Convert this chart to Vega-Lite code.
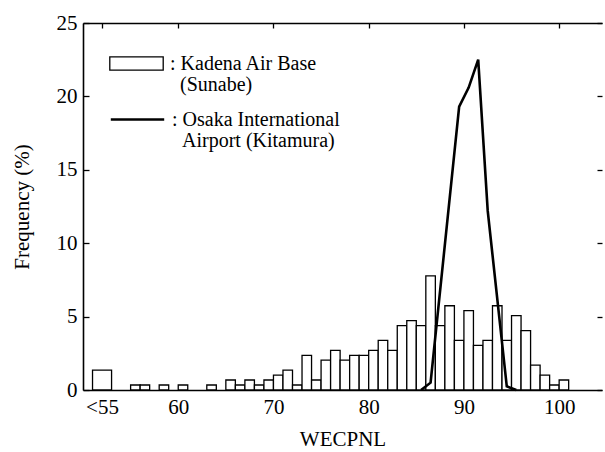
{
  "$schema": "https://vega.github.io/schema/vega-lite/v6.json",
  "width": 519,
  "height": 367,
  "autosize": {"type": "none"},
  "padding": {"left": 83, "top": 23, "right": 3, "bottom": 62},
  "background": "white",
  "config": {
    "view": {"stroke": null},
    "font": "Liberation Serif",
    "axis": {
      "grid": false,
      "labelFontSize": 21,
      "titleFontSize": 21,
      "domainColor": "black",
      "tickColor": "black",
      "domainWidth": 1.6,
      "tickWidth": 1.3
    }
  },
  "datasets": {
    "kadena": [
      {"wecpnl": 51, "wecpnl_end": 53, "pct": 1.35},
      {"wecpnl": 55, "wecpnl_end": 56, "pct": 0.34},
      {"wecpnl": 56, "wecpnl_end": 57, "pct": 0.34},
      {"wecpnl": 58, "wecpnl_end": 59, "pct": 0.34},
      {"wecpnl": 60, "wecpnl_end": 61, "pct": 0.34},
      {"wecpnl": 63, "wecpnl_end": 64, "pct": 0.34},
      {"wecpnl": 65, "wecpnl_end": 66, "pct": 0.68},
      {"wecpnl": 66, "wecpnl_end": 67, "pct": 0.34},
      {"wecpnl": 67, "wecpnl_end": 68, "pct": 0.68},
      {"wecpnl": 68, "wecpnl_end": 69, "pct": 0.34},
      {"wecpnl": 69, "wecpnl_end": 70, "pct": 0.68},
      {"wecpnl": 70, "wecpnl_end": 71, "pct": 1.01},
      {"wecpnl": 71, "wecpnl_end": 72, "pct": 1.35},
      {"wecpnl": 72, "wecpnl_end": 73, "pct": 0.34},
      {"wecpnl": 73, "wecpnl_end": 74, "pct": 2.36},
      {"wecpnl": 74, "wecpnl_end": 75, "pct": 0.68},
      {"wecpnl": 75, "wecpnl_end": 76, "pct": 2.03},
      {"wecpnl": 76, "wecpnl_end": 77, "pct": 2.7},
      {"wecpnl": 77, "wecpnl_end": 78, "pct": 2.03},
      {"wecpnl": 78, "wecpnl_end": 79, "pct": 2.36},
      {"wecpnl": 79, "wecpnl_end": 80, "pct": 2.36},
      {"wecpnl": 80, "wecpnl_end": 81, "pct": 2.7},
      {"wecpnl": 81, "wecpnl_end": 82, "pct": 3.38},
      {"wecpnl": 82, "wecpnl_end": 83, "pct": 2.7},
      {"wecpnl": 83, "wecpnl_end": 84, "pct": 4.39},
      {"wecpnl": 84, "wecpnl_end": 85, "pct": 4.73},
      {"wecpnl": 85, "wecpnl_end": 86, "pct": 4.39},
      {"wecpnl": 86, "wecpnl_end": 87, "pct": 7.77},
      {"wecpnl": 87, "wecpnl_end": 88, "pct": 4.39},
      {"wecpnl": 88, "wecpnl_end": 89, "pct": 5.74},
      {"wecpnl": 89, "wecpnl_end": 90, "pct": 3.38},
      {"wecpnl": 90, "wecpnl_end": 91, "pct": 5.41},
      {"wecpnl": 91, "wecpnl_end": 92, "pct": 3.04},
      {"wecpnl": 92, "wecpnl_end": 93, "pct": 3.38},
      {"wecpnl": 93, "wecpnl_end": 94, "pct": 5.74},
      {"wecpnl": 94, "wecpnl_end": 95, "pct": 3.38},
      {"wecpnl": 95, "wecpnl_end": 96, "pct": 5.07},
      {"wecpnl": 96, "wecpnl_end": 97, "pct": 4.05},
      {"wecpnl": 97, "wecpnl_end": 98, "pct": 1.69},
      {"wecpnl": 98, "wecpnl_end": 99, "pct": 1.01},
      {"wecpnl": 99, "wecpnl_end": 100, "pct": 0.34},
      {"wecpnl": 100, "wecpnl_end": 101, "pct": 0.68}
    ],
    "osaka": [
      {"wecpnl": 85.5, "pct": 0},
      {"wecpnl": 86.5, "pct": 0.5},
      {"wecpnl": 89.5, "pct": 19.3},
      {"wecpnl": 90.5, "pct": 20.6},
      {"wecpnl": 91.5, "pct": 22.5},
      {"wecpnl": 92.5, "pct": 12.2},
      {"wecpnl": 94.5, "pct": 0.25},
      {"wecpnl": 95.5, "pct": 0}
    ]
  },
  "layer": [
    {
      "data": {"name": "kadena"},
      "mark": {"type": "rect", "stroke": "black", "strokeWidth": 1.3},
      "encoding": {
        "x": {
          "field": "wecpnl",
          "type": "quantitative",
          "scale": {"domain": [50, 104.5], "nice": false, "zero": false},
          "axis": {
            "orient": "bottom",
            "values": [52, 60, 70, 80, 90, 100],
            "labelExpr": "datum.value == 52 ? '<55' : datum.label",
            "ticks": false,
            "labelPadding": 6,
            "title": "WECPNL",
            "titleFontWeight": "normal",
            "titlePadding": 11
          }
        },
        "x2": {"field": "wecpnl_end"},
        "y": {
          "field": "pct",
          "type": "quantitative",
          "scale": {"domain": [0, 25], "nice": false},
          "axis": {
            "orient": "left",
            "values": [0, 5, 10, 15, 20, 25],
            "tickSize": -6,
            "labelPadding": 12,
            "title": "Frequency (%)",
            "titleFontWeight": "normal",
            "titlePadding": 24
          }
        },
        "y2": {"datum": 0},
        "fill": {
          "datum": ": Kadena Air Base",
          "type": "nominal",
          "scale": {"range": ["white"]},
          "legend": {
            "orient": "none",
            "legendX": 26,
            "legendY": 13,
            "padding": 0,
            "title": null,
            "symbolType": "M-1,-0.25H1V0.25H-1Z",
            "symbolSize": 2852,
            "symbolStrokeColor": "black",
            "symbolStrokeWidth": 1.3,
            "symbolFillColor": "white",
            "labelFontSize": 20,
            "labelColor": "black",
            "labelLimit": 0,
            "labelOffset": 6,
            "labelBaseline": "alphabetic",
            "labelExpr": "[datum.label, '\u200b\u00a0\u00a0(Sunabe)']",
            "encode": {
              "labels": {"update": {"dy": {"value": 6}, "lineHeight": {"value": 21}}}
            }
          }
        }
      }
    },
    {
      "data": {"name": "osaka"},
      "mark": {"type": "line", "strokeWidth": 2.6, "strokeJoin": "miter"},
      "encoding": {
        "x": {"field": "wecpnl", "type": "quantitative", "axis": null},
        "y": {"field": "pct", "type": "quantitative", "axis": null},
        "stroke": {
          "datum": ": Osaka International",
          "type": "nominal",
          "scale": {"range": ["black"]},
          "legend": {
            "orient": "none",
            "legendX": 26,
            "legendY": 68,
            "padding": 0,
            "title": null,
            "symbolType": "M-1,0H1",
            "symbolSize": 2852,
            "symbolStrokeWidth": 2.6,
            "labelFontSize": 20,
            "labelColor": "black",
            "labelLimit": 0,
            "labelOffset": 6,
            "labelBaseline": "alphabetic",
            "labelExpr": "[datum.label, '\u200b\u00a0\u00a0Airport (Kitamura)']",
            "encode": {
              "labels": {"update": {"dy": {"value": 6}, "lineHeight": {"value": 21}}}
            }
          }
        }
      }
    },
    {
      "data": {"name": "osaka"},
      "mark": {"type": "point", "opacity": 0},
      "encoding": {
        "x": {
          "field": "wecpnl",
          "type": "quantitative",
          "axis": {
            "orient": "top",
            "values": [52, 60, 70, 80, 90, 100],
            "labels": false,
            "tickSize": -5,
            "title": null
          }
        },
        "y": {
          "field": "pct",
          "type": "quantitative",
          "axis": {
            "orient": "right",
            "values": [0, 5, 10, 15, 20, 25],
            "labels": false,
            "domain": false,
            "tickSize": -5,
            "title": null
          }
        }
      }
    }
  ]
}
